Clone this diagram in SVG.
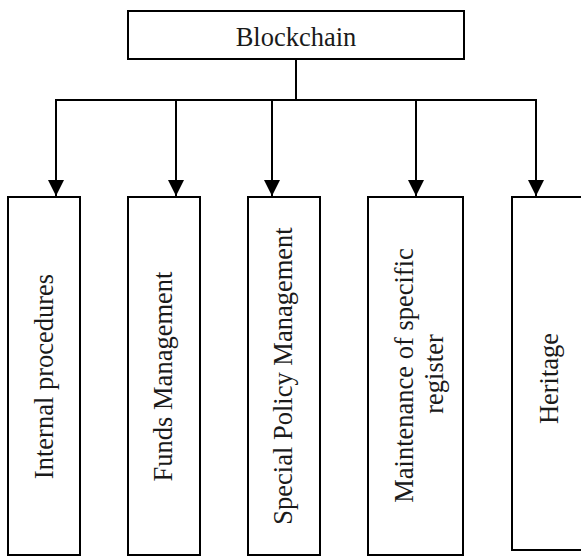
<svg xmlns="http://www.w3.org/2000/svg" width="581" height="557" viewBox="0 0 581 557">
<style>
.box{fill:#fff;stroke:#000;stroke-width:2}
.ln{fill:none;stroke:#000;stroke-width:2}
.t{font-family:"Liberation Serif","Times New Roman",serif;font-size:26.5px;fill:#1a1a1a;text-anchor:middle}
</style>
<defs>
<marker id="ah" markerWidth="16" markerHeight="16" refX="16" refY="8" orient="auto" markerUnits="userSpaceOnUse">
<path d="M0,0 L16,8 L0,16 Z" fill="#000"/>
</marker>
</defs>
<rect width="581" height="557" fill="#fff"/>
<g id="connectors">
<line class="ln" x1="296" y1="53" x2="296" y2="100"/>
<line class="ln" x1="55" y1="100" x2="537" y2="100"/>
<line class="ln" x1="56" y1="100" x2="56" y2="196" marker-end="url(#ah)"/>
<line class="ln" x1="176" y1="100" x2="176" y2="196" marker-end="url(#ah)"/>
<line class="ln" x1="272" y1="100" x2="272" y2="196" marker-end="url(#ah)"/>
<line class="ln" x1="416" y1="100" x2="416" y2="196" marker-end="url(#ah)"/>
<line class="ln" x1="536" y1="100" x2="536" y2="196" marker-end="url(#ah)"/>
</g>
<g id="blockchain">
<rect class="box" x="128" y="11" width="336" height="48"/>
<text class="t" x="296" y="46">Blockchain</text>
</g>
<g id="internal">
<rect class="box" x="8" y="197" width="72" height="358"/>
<text class="t" transform="translate(52.5,376.5) rotate(-90)">Internal procedures</text>
</g>
<g id="funds">
<rect class="box" x="128" y="197" width="72" height="358"/>
<text class="t" transform="translate(172,376.5) rotate(-90)">Funds Management</text>
</g>
<g id="special">
<rect class="box" x="248" y="197" width="72" height="358"/>
<text class="t" transform="translate(291.5,376) rotate(-90)">Special Policy Management</text>
</g>
<g id="maintenance">
<rect class="box" x="368" y="197" width="95" height="358"/>
<text class="t" transform="translate(413,375.5) rotate(-90)">Maintenance of specific</text>
<text class="t" transform="translate(443,374) rotate(-90)">register</text>
</g>
<g id="heritage">
<rect class="box" x="512" y="197" width="80" height="353"/>
<text class="t" transform="translate(557.5,378.5) rotate(-90)">Heritage</text>
</g>
</svg>
